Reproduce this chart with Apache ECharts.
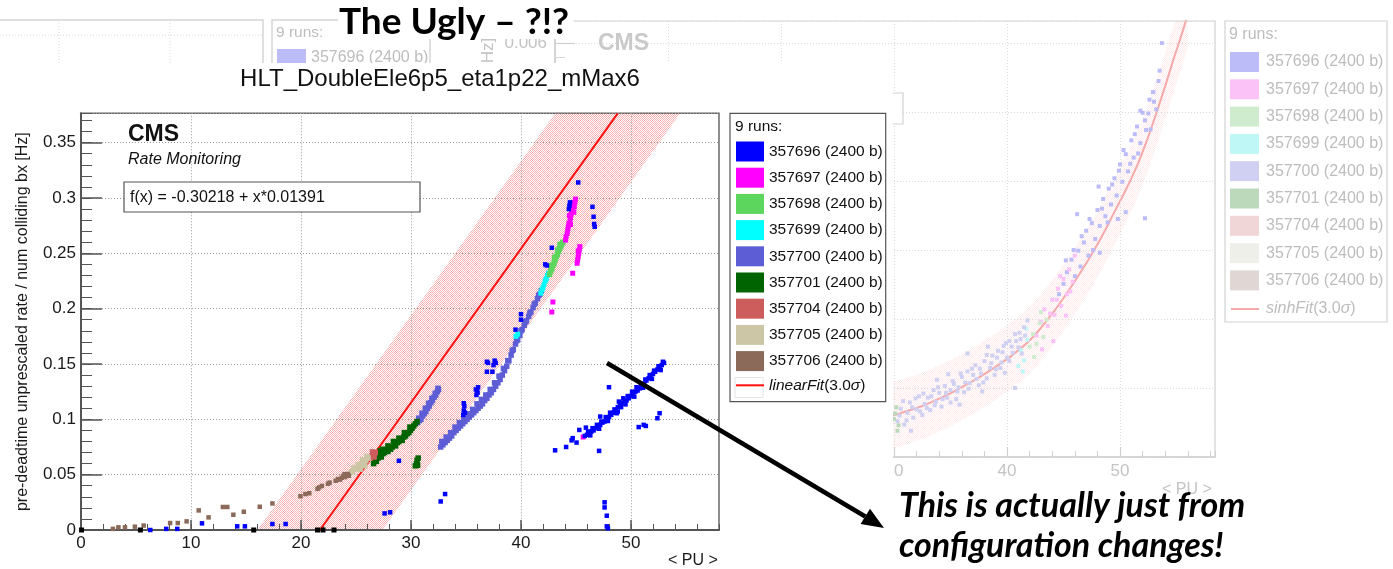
<!DOCTYPE html>
<html>
<head>
<meta charset="utf-8">
<script src="https://cdn.jsdelivr.net/npm/echarts@6/dist/echarts.min.js"></script>
<style>
html, body { margin: 0; padding: 0; background: #fff; }
#chart { width: 1393px; height: 569px; }
</style>
</head>
<body>
<div id="chart"></div>
<script>
// ---------- main plot: HLT_DoubleEle6p5_eta1p22_mMax6 ----------
const runNames = ['357696 (2400 b)', '357697 (2400 b)', '357698 (2400 b)', '357699 (2400 b)',
  '357700 (2400 b)', '357701 (2400 b)', '357704 (2400 b)', '357705 (2400 b)', '357706 (2400 b)'];
const runColors = ['#0000ff', '#ff00ff', '#5cd65c', '#00ffff', '#5d5dd6', '#006400', '#cd5c5c', '#ccc6a6', '#8b6a5a'];
const runMarkerSizes = [4.5, 5, 5.5, 5, 5.5, 5.5, 5.5, 5.5, 4.5];
const fitName = 'linearFit(3.0σ)';

// rate vs <PU> per run
const run357696 = [
  [6.3, 0.0], [7.75, 0.001], [8.75, 0.001], [11.0, 0.006], [14.2, 0.0033], [14.9, 0.0033], [17.4, 0.0054], [18.6, 0.0054],
  [27.6, 0.015], [28.1, 0.016], [28.9, 0.0625], [32.7, 0.0258], [33.1, 0.0325],
  [34.75, 0.104], [34.8, 0.108], [34.85, 0.112], [34.9, 0.106], [34.8, 0.1145], [35.95, 0.122], [36.0, 0.126], [36.1, 0.129], [36.05, 0.124], [35.9, 0.127],
  [36.9, 0.152], [37.0, 0.151], [37.7, 0.151], [37.6, 0.153], [37.5, 0.149], [36.9, 0.143], [37.4, 0.143],
  [39.5, 0.181], [40.0, 0.19], [40.0, 0.195], [42.2, 0.24], [42.35, 0.239], [42.8, 0.255],
  [44.4, 0.293], [44.35, 0.29], [44.45, 0.296], [45.2, 0.314], [46.5, 0.292], [46.6, 0.283], [46.65, 0.2765], [46.7, 0.274],
  [45.8, 0.085], [46.0, 0.086], [46.2, 0.087], [46.4, 0.089], [46.6, 0.09], [46.8, 0.092], [47.0, 0.093], [47.2, 0.095],
  [47.4, 0.097], [47.6, 0.098], [47.8, 0.1], [48.0, 0.102], [48.2, 0.104], [48.4, 0.106], [48.6, 0.108], [48.8, 0.111],
  [49.0, 0.113], [49.2, 0.115], [49.4, 0.116], [49.6, 0.117], [49.8, 0.119], [50.0, 0.121], [50.2, 0.123], [50.4, 0.125],
  [50.6, 0.126], [50.8, 0.128], [51.0, 0.13], [51.2, 0.132], [51.4, 0.135], [51.6, 0.137], [51.8, 0.139], [52.0, 0.141],
  [52.2, 0.143], [52.4, 0.145], [52.6, 0.147], [52.8, 0.149], [53.0, 0.151],
  [46.1, 0.089], [46.5, 0.092], [46.9, 0.095], [47.3, 0.098], [47.7, 0.102], [48.1, 0.106], [48.5, 0.109], [48.9, 0.116],
  [49.3, 0.119], [49.7, 0.121], [50.1, 0.125], [50.5, 0.129], [50.9, 0.132], [51.3, 0.136], [51.7, 0.14], [52.1, 0.144],
  [52.5, 0.148], [52.9, 0.152], [48.8, 0.107], [49.1, 0.111],
  [46.3, 0.0855], [47.1, 0.0915], [47.9, 0.0985], [48.7, 0.1055], [49.5, 0.1135], [50.3, 0.1205], [51.1, 0.1285], [51.9, 0.1365], [52.7, 0.1445],
  [43.1, 0.072], [44.1, 0.075], [44.6, 0.081], [44.7, 0.083], [45.05, 0.079], [45.3, 0.0904], [45.9, 0.0925], [47.1, 0.0715],
  [47.2, 0.1025], [48.0, 0.129], [50.7, 0.093], [51.15, 0.095], [51.35, 0.094], [52.4, 0.101], [52.6, 0.1055],
  [47.6, 0.025], [47.6, 0.0204], [47.8, 0.0129], [47.8, 0.0033], [47.9, 0.0015]
];
const run357697 = [
  [44.05, 0.262], [44.1, 0.265], [44.2, 0.268], [44.25, 0.271], [44.3, 0.274], [44.35, 0.277], [44.45, 0.279], [44.5, 0.282],
  [44.55, 0.285], [44.6, 0.288], [44.7, 0.29], [44.65, 0.293], [44.75, 0.296], [44.85, 0.292], [44.9, 0.296], [44.95, 0.299],
  [44.5, 0.276], [44.4, 0.284], [44.8, 0.287],
  [45.1, 0.241], [45.15, 0.244], [45.2, 0.247], [45.25, 0.25], [45.3, 0.253], [45.35, 0.256], [45.2, 0.252],
  [44.7, 0.232], [42.9, 0.206], [42.8, 0.197], [45.65, 0.084]
];
const run357698 = [
  [42.6, 0.231], [42.7, 0.234], [42.8, 0.236], [42.9, 0.239], [43.0, 0.241], [43.1, 0.244], [43.2, 0.247], [43.3, 0.249],
  [43.4, 0.252], [43.5, 0.254], [43.6, 0.256], [43.7, 0.258], [43.8, 0.26], [42.75, 0.239], [43.05, 0.246], [43.35, 0.253], [43.55, 0.258]
];
const run357699 = [
  [41.8, 0.214], [41.9, 0.217], [42.0, 0.219], [42.1, 0.222], [42.2, 0.225], [42.3, 0.227], [42.4, 0.23], [42.5, 0.232],
  [39.55, 0.175], [39.7, 0.177]
];
const run357700 = [
  [30.6, 0.097], [30.75, 0.099], [30.9, 0.1], [31.05, 0.103], [31.2, 0.105], [31.35, 0.107], [31.5, 0.11], [31.65, 0.112],
  [31.8, 0.115], [31.95, 0.117], [32.1, 0.12], [32.25, 0.122], [32.4, 0.125], [32.5, 0.127], [30.7, 0.101], [31.0, 0.1055],
  [31.3, 0.11], [31.6, 0.1145], [31.9, 0.119], [32.2, 0.1235], [32.45, 0.128],
  [32.7, 0.075], [32.9, 0.077], [33.1, 0.079], [33.3, 0.081], [33.5, 0.083], [33.7, 0.085], [33.9, 0.088], [34.1, 0.09],
  [34.3, 0.092], [34.5, 0.094], [34.7, 0.096], [34.9, 0.098], [35.1, 0.1], [35.3, 0.102], [35.5, 0.104], [35.7, 0.106],
  [35.9, 0.108], [36.1, 0.11], [36.3, 0.112], [36.5, 0.114], [36.7, 0.117], [36.9, 0.119], [37.1, 0.122], [37.3, 0.124],
  [37.5, 0.127], [37.7, 0.13], [37.9, 0.133], [38.1, 0.136], [38.3, 0.14], [38.5, 0.144], [38.7, 0.148], [38.9, 0.153],
  [39.1, 0.158], [39.3, 0.163], [39.5, 0.168], [39.7, 0.172], [39.9, 0.176], [40.1, 0.181], [40.3, 0.185], [40.5, 0.189],
  [40.7, 0.193], [40.9, 0.197], [41.1, 0.201], [41.3, 0.205], [41.5, 0.209], [41.7, 0.213], [41.85, 0.216],
  [32.8, 0.08], [33.2, 0.084], [33.6, 0.088], [34.0, 0.093], [34.4, 0.097], [34.8, 0.101], [35.2, 0.105], [35.6, 0.109],
  [36.0, 0.114], [36.4, 0.118], [36.8, 0.122], [37.2, 0.127], [37.6, 0.133], [38.0, 0.139], [38.4, 0.146], [38.8, 0.153],
  [39.2, 0.162], [39.6, 0.171], [40.0, 0.18], [40.4, 0.188], [40.8, 0.196], [41.2, 0.204], [41.6, 0.212]
];
const run357701 = [
  [26.6, 0.06], [26.7, 0.063], [26.85, 0.062], [27.0, 0.065], [27.1, 0.068], [27.2, 0.0715], [27.3, 0.066], [27.45, 0.069],
  [27.6, 0.07], [27.75, 0.072], [27.9, 0.071], [28.0, 0.074], [28.15, 0.073], [28.3, 0.075], [28.45, 0.077], [28.6, 0.076],
  [28.75, 0.079], [28.9, 0.08], [29.05, 0.082], [29.2, 0.081], [29.35, 0.084], [29.5, 0.085], [29.65, 0.087], [29.8, 0.088],
  [29.95, 0.09], [30.1, 0.092], [30.25, 0.094], [30.4, 0.096], [30.55, 0.098], [27.4, 0.073], [27.9, 0.076], [28.4, 0.08],
  [28.9, 0.083], [29.4, 0.088], [29.9, 0.093],
  [30.4, 0.058], [30.5, 0.06], [30.55, 0.063], [30.65, 0.065], [30.6, 0.0585]
];
const run357704 = [[26.3, 0.065], [26.45, 0.067], [26.6, 0.068], [26.75, 0.07], [26.5, 0.0705], [26.65, 0.066]];
const run357705 = [
  [24.5, 0.052], [24.7, 0.053], [24.9, 0.055], [25.1, 0.056], [25.3, 0.058], [25.5, 0.06], [25.7, 0.061], [25.9, 0.063],
  [26.1, 0.065], [24.8, 0.056], [25.2, 0.059], [25.6, 0.0635], [26.0, 0.0665], [25.4, 0.055], [25.8, 0.058]
];
const run357706 = [
  [2.9, 0.001], [3.4, 0.0024], [4.0, 0.0024], [4.9, 0.003], [5.7, 0.004], [8.1, 0.0063], [8.8, 0.0063], [9.6, 0.0078],
  [10.7, 0.0177], [11.6, 0.0114], [12.9, 0.0208], [13.3, 0.0208], [13.85, 0.0138], [14.8, 0.0165], [16.25, 0.021], [17.4, 0.024],
  [19.95, 0.0305], [20.4, 0.0325], [20.75, 0.0332], [21.5, 0.0372], [21.65, 0.0385], [21.9, 0.0398], [22.45, 0.0418], [22.6, 0.0428],
  [23.15, 0.0445], [23.35, 0.046], [23.55, 0.0455], [23.7, 0.0472], [23.85, 0.0488], [24.0, 0.0478], [24.1, 0.0495], [24.25, 0.0505],
  [24.35, 0.049], [23.95, 0.0505]
];
const zeroRatePoints = [[0.05, 0], [5.4, 0], [15.7, 0], [21.5, 0], [22.0, 0], [23.0, 0]];
const runData = [run357696, run357697, run357698, run357699, run357700, run357701, run357704, run357705, run357706];

// linear fit f(x) = a + b*x with a 3 sigma band
const fitIntercept = -0.30218;
const fitSlope = 0.01391;
const fitSigma = 0.02635;
const fitNSigma = 3;

// axis ranges / ticks
const xMin = 0, xMax = 58, xMajor = 10, xMinor = 2;
const yMin = 0, yMax = 0.3765, yMajor = 0.05, yMinor = 0.01;

// ---------- faded plot behind (sinh fit) ----------
const bgRunColors = ['#bcbcf8', '#fbc2f8', '#cfeccf', '#bff7f7', '#d0d0f2', '#bcd9bc', '#f1d6d8', '#efefe9', '#e0d6d4'];
const bgRun357696 = [
  [44.6, 0.00236], [45.0, 0.00251], [45.3, 0.00268], [45.7, 0.00286], [46.0, 0.00262], [46.3, 0.00299], [46.5, 0.00276],
  [46.8, 0.00311], [47.0, 0.00328], [47.2, 0.00292], [47.5, 0.00339], [47.8, 0.00316], [48.0, 0.00358], [48.2, 0.00335],
  [48.5, 0.00374], [48.7, 0.00349], [49.0, 0.00389], [49.2, 0.00366], [49.5, 0.00404], [49.7, 0.00379], [50.0, 0.00424],
  [50.2, 0.00399], [50.5, 0.00439], [50.7, 0.00414], [51.0, 0.00459], [51.2, 0.00434], [51.5, 0.00479], [51.8, 0.00455],
  [52.0, 0.00499], [52.3, 0.00474], [52.6, 0.00518], [52.9, 0.00529], [53.2, 0.00504], [53.4, 0.00545], [51.8, 0.00502],
  [52.95, 0.00529], [53.7, 0.006], [48.1, 0.00392], [52.2, 0.00346], [49.8, 0.00345], [50.5, 0.00355], [46.2, 0.00352], [48.2, 0.00296],
  [45.2, 0.00285], [45.9, 0.003], [46.6, 0.0032], [47.3, 0.00345], [47.6, 0.003], [48.4, 0.0036], [48.9, 0.0034], [49.3, 0.00395],
  [49.9, 0.00415], [50.3, 0.00445], [50.9, 0.00425], [51.3, 0.00468], [51.6, 0.0044], [52.2, 0.00488], [52.5, 0.00498],
  [53.0, 0.00515], [53.5, 0.0056], [52.7, 0.00475]
];
const bgRun357697 = [
  [42.6, 0.00176], [43.0, 0.00196], [43.3, 0.00214], [43.6, 0.0019], [44.0, 0.00228], [44.2, 0.00206], [44.5, 0.00244],
  [44.8, 0.00219], [45.0, 0.00258], [45.3, 0.00236], [45.5, 0.00272], [44.1, 0.00168], [45.8, 0.00254], [46.0, 0.00292],
  [43.1, 0.00156], [44.7, 0.00262], [45.2, 0.00205], [43.8, 0.00208], [44.4, 0.00228], [45.6, 0.0024]
];
const bgRun357698 = [[42.0, 0.0016], [42.3, 0.00178], [42.6, 0.00164], [42.9, 0.00194], [43.2, 0.00174], [43.5, 0.00199], [42.4, 0.00145], [43.0, 0.0021]];
const bgRun357699 = [[41.2, 0.00155], [41.5, 0.0014], [41.8, 0.0017], [41.4, 0.00124], [41.7, 0.00186], [41.0, 0.00132]];
const bgRun357700 = [
  [30.3, 0.00052], [30.6, 0.0007], [30.9, 0.00047], [31.2, 0.00064], [31.4, 0.00079], [31.7, 0.00057], [32.0, 0.00069],
  [32.2, 0.00088], [32.5, 0.00061], [32.7, 0.00077], [33.0, 0.00086], [33.2, 0.00068], [33.5, 0.00097], [33.7, 0.0008],
  [34.0, 0.00093], [34.2, 0.00073], [34.5, 0.00103], [34.7, 0.00086], [35.0, 0.00097], [35.2, 0.0011], [35.5, 0.00084],
  [35.7, 0.00101], [36.0, 0.00116], [36.2, 0.00094], [36.5, 0.00124], [36.7, 0.00107], [37.0, 0.00119], [37.2, 0.00133],
  [37.5, 0.00104], [37.7, 0.00121], [38.0, 0.00139], [38.2, 0.00114], [38.5, 0.00129], [38.7, 0.00147], [39.0, 0.00127],
  [39.2, 0.00154], [39.5, 0.00137], [39.7, 0.00161], [40.0, 0.00144], [40.2, 0.00168], [40.5, 0.00151], [40.7, 0.00178],
  [41.0, 0.00159], [41.2, 0.00171], [41.5, 0.00188], [36.5, 0.0015], [40.7, 0.001], [31.5, 0.00038], [33.8, 0.00112],
  [35.8, 0.00076], [38.3, 0.0016], [39.8, 0.00122], [41.8, 0.00198], [37.8, 0.00095], [34.8, 0.0012],
  [30.5, 0.0006], [30.8, 0.00081], [31.1, 0.00053], [31.6, 0.00072], [31.9, 0.00085], [32.3, 0.00066], [32.6, 0.00092],
  [32.9, 0.00071], [33.3, 0.00088], [33.6, 0.00075], [33.9, 0.00101], [34.3, 0.00084], [34.6, 0.00093], [35.0, 0.00079],
  [35.3, 0.00106], [35.6, 0.00095], [35.9, 0.00121], [36.3, 0.00108], [36.6, 0.00099], [36.9, 0.00128], [37.3, 0.00113],
  [37.6, 0.00128], [37.9, 0.00108], [38.2, 0.00148], [38.6, 0.00136], [38.9, 0.00119], [39.1, 0.00144], [39.4, 0.00129],
  [39.6, 0.00152], [39.9, 0.00165], [40.2, 0.00139], [40.4, 0.0016], [40.8, 0.00168], [41.1, 0.0018], [41.3, 0.0015], [41.6, 0.00176]
];
const bgRun357701 = [[30.0, 0.00055], [30.2, 0.00072], [30.4, 0.00046], [30.1, 0.00063], [30.3, 0.00038]];
const bgRunData = [bgRun357696, bgRun357697, bgRun357698, bgRun357699, bgRun357700, bgRun357701, [], [], []];
const bgFitCurve = [
  [29.5, 0.00058], [30.1, 0.00061], [32.5, 0.00074], [34.7, 0.0009], [36.2, 0.00103], [37.6, 0.00116], [39.0, 0.00131],
  [40.5, 0.00148], [42.3, 0.00174], [44.1, 0.0021], [45.6, 0.00245], [47.05, 0.00282], [48.3, 0.00317], [49.4, 0.00352],
  [50.5, 0.00387], [51.5, 0.00422], [52.4, 0.0046], [53.2, 0.00498], [54.0, 0.00538], [54.7, 0.00575], [55.4, 0.0061], [56.0, 0.00642]
];
const bgBandHalf = 0.00048;
const bgXMax = 58.4, bgYMax = 0.00632;

const SANS = '"Liberation Sans", Arial, Helvetica, sans-serif';
const LATO = 'Lato, "Open Sans", sans-serif';

function dotPattern(rgba) {
  const c = document.createElement('canvas');
  c.width = 2; c.height = 2;
  const g = c.getContext('2d');
  g.fillStyle = rgba;
  g.fillRect(0, 0, 1, 1);
  g.fillRect(1, 1, 1, 1);
  return { image: c, repeat: 'repeat' };
}

// fit geometry (data space)
const halfBand = fitNSigma * fitSigma;
const xAtY = (y, off) => (y - fitIntercept - off) / fitSlope;
const fitLine = [[xAtY(0, 0), 0], [xAtY(yMax, 0), yMax]];
const bandPolygon = [[xAtY(0, halfBand), 0], [xAtY(0, -halfBand), 0], [xAtY(yMax, -halfBand), yMax], [xAtY(yMax, halfBand), yMax]];
const bgBandPolygon = bgFitCurve.map(p => [p[0], p[1] + bgBandHalf])
  .concat(bgFitCurve.slice().reverse().map(p => [p[0], p[1] - bgBandHalf]));

const chart = echarts.init(document.getElementById('chart'), null, { renderer: 'canvas' });

const axisGray = '#555';
const gridDots = { color: '#9a9a9a', type: [1, 2], width: 1 };
const bgGray = '#c4c4c4';

function minorAxis(gridIndex, dim, min, max, step, len, color, zlevel) {
  return {
    gridIndex, type: 'value', min, max, interval: step, position: dim === 'x' ? 'bottom' : 'left', zlevel, z: 3,
    axisLine: { show: false }, axisLabel: { show: false }, splitLine: { show: false },
    axisTick: { show: true, inside: true, length: len, lineStyle: { color, width: 1 } }
  };
}

const xAxes = [
  {
    gridIndex: 0, type: 'value', min: xMin, max: xMax, interval: xMajor, position: 'bottom', zlevel: 1, z: 3,
    axisLine: { show: true, lineStyle: { color: axisGray, width: 2 } },
    axisTick: { show: true, inside: true, length: 10, lineStyle: { color: axisGray, width: 1.5 } },
    axisLabel: { color: '#1a1a1a', fontSize: 17, fontFamily: SANS, margin: 5, showMaxLabel: false },
    splitLine: { show: true, lineStyle: gridDots },
    name: '< PU >', nameLocation: 'end', nameGap: -51,
    nameTextStyle: { color: '#1a1a1a', fontSize: 16, fontFamily: SANS, align: 'left', verticalAlign: 'top', padding: [23, 0, 0, 0] }
  },
  minorAxis(0, 'x', xMin, xMax, xMinor, 6, axisGray, 1),
  {
    gridIndex: 1, type: 'value', min: 0, max: bgXMax, interval: 10, position: 'bottom', zlevel: 0, z: 3,
    axisLine: { show: true, lineStyle: { color: '#cfcfcf', width: 1.5 } },
    axisTick: { show: true, inside: true, length: 10, lineStyle: { color: '#cfcfcf', width: 1.2 } },
    axisLabel: { color: bgGray, fontSize: 17, fontFamily: SANS, margin: 6, showMaxLabel: false },
    splitLine: { show: true, lineStyle: { color: '#dadada', type: [1, 2], width: 1 } },
    name: '< PU >', nameLocation: 'end', nameGap: -53,
    nameTextStyle: { color: bgGray, fontSize: 16, fontFamily: SANS, align: 'left', verticalAlign: 'top', padding: [25, 0, 0, 0] }
  },
  minorAxis(1, 'x', 0, bgXMax, 2, 6, '#d2d2d2', 0)
];

const yAxes = [
  {
    gridIndex: 0, type: 'value', min: yMin, max: yMax, interval: yMajor, position: 'left', zlevel: 1, z: 3,
    axisLine: { show: true, lineStyle: { color: axisGray, width: 2 } },
    axisTick: { show: true, inside: true, length: 21, lineStyle: { color: axisGray, width: 1.5 } },
    axisLabel: { color: '#1a1a1a', fontSize: 17, fontFamily: SANS, margin: 5, showMaxLabel: false },
    splitLine: { show: true, lineStyle: gridDots },
    name: 'pre-deadtime unprescaled rate / num colliding bx [Hz]', nameLocation: 'middle', nameGap: 50,
    nameTextStyle: { color: '#1a1a1a', fontSize: 16, fontFamily: SANS }
  },
  minorAxis(0, 'y', yMin, yMax, yMinor, 11, axisGray, 1),
  {
    gridIndex: 1, type: 'value', min: 0, max: bgYMax, interval: 0.001, position: 'left', zlevel: 0, z: 3,
    axisLine: { show: true, lineStyle: { color: '#cfcfcf', width: 1.5 } },
    axisTick: { show: true, inside: true, length: 20, lineStyle: { color: '#cfcfcf', width: 1.2 } },
    minorTick: { show: true, splitNumber: 5, length: 10, lineStyle: { color: '#d6d6d6' } },
    axisLabel: { color: bgGray, fontSize: 17, fontFamily: SANS, margin: 8, showMaxLabel: false },
    splitLine: { show: true, lineStyle: { color: '#dadada', type: [1, 2], width: 1 } },
    name: 'pre-deadtime unprescaled rate / num colliding bx [Hz]', nameLocation: 'middle', nameGap: 58,
    nameTextStyle: { color: bgGray, fontSize: 17, fontFamily: SANS }
  }
];

const series = [];

// faded plot: band, fit curve, points
series.push({
  type: 'custom', name: 'bgBand', xAxisIndex: 2, yAxisIndex: 2, zlevel: 0, z: 1, silent: true, clip: true,
  data: [[bgFitCurve[0][0], bgFitCurve[0][1]]],
  renderItem: (params, api) => ({
    type: 'polygon',
    shape: { points: bgBandPolygon.map(p => api.coord(p)) },
    style: { fill: dotPattern('rgba(245,165,165,0.22)') }
  })
});
series.push({
  type: 'line', name: 'sinhFit(3.0σ)', xAxisIndex: 2, yAxisIndex: 2, zlevel: 0, z: 2, silent: true, clip: true,
  data: bgFitCurve, smooth: 0.3, showSymbol: false, symbol: 'none',
  lineStyle: { color: '#f6a9a9', width: 2 }
});
bgRunData.forEach((d, i) => {
  if (!d.length) return;
  series.push({
    type: 'scatter', name: 'bg ' + runNames[i], xAxisIndex: 2, yAxisIndex: 2, zlevel: 0, z: 3, silent: true,
    data: d, symbol: 'rect', symbolSize: 4, itemStyle: { color: bgRunColors[i], opacity: 1 }
  });
});

// main plot: band, fit line, points
series.push({
  type: 'custom', name: 'fitBand', xAxisIndex: 0, yAxisIndex: 0, zlevel: 1, z: 2, silent: true, clip: true,
  data: [[fitLine[0][0], 0]],
  renderItem: (params, api) => ({
    type: 'polygon',
    shape: { points: bandPolygon.map(p => api.coord(p)) },
    style: { fill: dotPattern('rgba(235,75,75,0.42)') }
  })
});
series.push({
  type: 'line', name: fitName, xAxisIndex: 0, yAxisIndex: 0, zlevel: 1, z: 3, silent: true,
  data: fitLine, symbol: 'none', showSymbol: false,
  lineStyle: { color: '#ff1010', width: 2 }, itemStyle: { color: '#ff1010' }
});
const drawOrder = [4, 5, 6, 7, 8, 3, 2, 1, 0];
drawOrder.forEach((i, k) => {
  series.push({
    type: 'scatter', name: runNames[i], xAxisIndex: 0, yAxisIndex: 0, zlevel: 1, z: 4 + k * 0.1, silent: true,
    data: runData[i], symbol: 'rect', symbolSize: runMarkerSizes[i], itemStyle: { color: runColors[i], opacity: 1 }
  });
});
series.push({
  type: 'scatter', name: 'zero rate', xAxisIndex: 0, yAxisIndex: 0, zlevel: 1, z: 5, silent: true,
  data: zeroRatePoints, symbol: 'rect', symbolSize: 5, itemStyle: { color: '#000', opacity: 1 }
});

// ---------- decorations ----------
const g = [];
const T = (x, y, text, o) => Object.assign({ type: 'text', x, y, silent: true, style: Object.assign({ text, fontFamily: SANS, fill: '#111', verticalAlign: 'middle' }, o.style || {}) }, o.el || {});

// fragments of another faded plot, top-left
g.push({ type: 'rect', zlevel: 0, z: 1, shape: { x: -2, y: 20, width: 265, height: 320 }, style: { fill: 'none', stroke: '#d6d6d6', lineWidth: 1.5 } });
g.push({ type: 'line', zlevel: 0, z: 1, shape: { x1: 0, y1: 35, x2: 263, y2: 35 }, style: { stroke: '#d8d8d8', lineDash: [1, 2] } });
g.push({ type: 'line', zlevel: 0, z: 1, shape: { x1: 59, y1: 20, x2: 59, y2: 70 }, style: { stroke: '#d8d8d8', lineDash: [1, 2] } });
g.push({ type: 'line', zlevel: 0, z: 1, shape: { x1: 170, y1: 20, x2: 170, y2: 70 }, style: { stroke: '#d8d8d8', lineDash: [1, 2] } });
g.push({ type: 'rect', zlevel: 0, z: 1, shape: { x: 272, y: 20, width: 158, height: 320 }, style: { fill: '#fff', stroke: '#d6d6d6', lineWidth: 1.5 } });
g.push(T(276, 33, '9 runs:', { el: { zlevel: 0, z: 2 }, style: { fill: '#bdbdbd', fontSize: 15.5 } }));
g.push({ type: 'rect', zlevel: 0, z: 2, shape: { x: 277, y: 49, width: 29, height: 19 }, style: { fill: bgRunColors[0] } });
g.push(T(311, 58, runNames[0], { el: { zlevel: 0, z: 2 }, style: { fill: '#bdbdbd', fontSize: 16 } }));

// faded plot labels and legend
g.push(T(598, 44, 'CMS', { el: { zlevel: 0, z: 4 }, style: { fill: '#c9c9c9', fontSize: 23, fontWeight: 'bold' } }));
g.push({ type: 'rect', zlevel: 0, z: 4, shape: { x: 610, y: 93, width: 293, height: 31 }, style: { fill: '#fff', stroke: '#d2d2d2', lineWidth: 1.2 } });
g.push({ type: 'rect', zlevel: 0, z: 4, shape: { x: 1225, y: 21, width: 162, height: 301 }, style: { fill: '#fff', stroke: '#d2d2d2', lineWidth: 1.2 } });
g.push(T(1229, 35, '9 runs:', { el: { zlevel: 0, z: 5 }, style: { fill: '#bdbdbd', fontSize: 16 } }));
runNames.forEach((n, i) => {
  const yc = 62 + i * 27.3;
  g.push({ type: 'rect', zlevel: 0, z: 5, shape: { x: 1230, y: yc - 10, width: 29, height: 20 }, style: { fill: bgRunColors[i] } });
  g.push(T(1266, yc, n, { el: { zlevel: 0, z: 5 }, style: { fill: '#bdbdbd', fontSize: 16 } }));
});
g.push({ type: 'line', zlevel: 0, z: 5, shape: { x1: 1231, y1: 309, x2: 1259, y2: 309 }, style: { stroke: '#f6a9a9', lineWidth: 2 } });
g.push(T(1266, 309, '{i|sinhFit}(3.0{i|σ})', { el: { zlevel: 0, z: 5 }, style: { fill: '#bdbdbd', fontSize: 16, rich: { i: { fontStyle: 'italic', fontSize: 16, fontFamily: SANS, fill: '#bdbdbd' } } } }));

// main plot panel
g.push({ type: 'rect', zlevel: 1, z: 0, shape: { x: 0, y: 63, width: 893, height: 506 }, style: { fill: '#fff' } });
g.push(T(440, 79, 'HLT_DoubleEle6p5_eta1p22_mMax6', { el: { zlevel: 1, z: 10 }, style: { fontSize: 24, align: 'center' } }));
g.push(T(128, 135, 'CMS', { el: { zlevel: 1, z: 10 }, style: { fontSize: 23, fontWeight: 'bold' } }));
g.push(T(128, 160, 'Rate Monitoring', { el: { zlevel: 1, z: 10 }, style: { fontSize: 16, fontStyle: 'italic' } }));
g.push({ type: 'rect', zlevel: 1, z: 9, shape: { x: 124, y: 182, width: 296, height: 30 }, style: { fill: '#fff', stroke: '#555', lineWidth: 1.2 } });
g.push(T(130, 197.5, 'f(x) = ' + fitIntercept.toFixed(5) + ' + x*' + fitSlope.toFixed(5), { el: { zlevel: 1, z: 10 }, style: { fontSize: 16 } }));
g.push({ type: 'rect', zlevel: 1, z: 5, shape: { x: 730, y: 113.3, width: 155.7, height: 288.4 }, style: { fill: '#fff', stroke: '#555', lineWidth: 1.2 } });
g.push({ type: 'rect', zlevel: 1, z: 6, shape: { x: 735, y: 377.5, width: 28, height: 20 }, style: { fill: '#fff', stroke: '#e4e4e4', lineWidth: 1 } });
g.push(T(735, 127, '9 runs:', { el: { zlevel: 1, z: 6 }, style: { fontSize: 15.5 } }));

// slide overlay: heading, arrow, note
g.push({ type: 'rect', zlevel: 2, z: 1, shape: { x: 338, y: 0, width: 236, height: 39 }, style: { fill: '#fff' } });
g.push(T(454, 22, 'The Ugly – ?!?', { el: { zlevel: 2, z: 2 }, style: { fontFamily: LATO, fontWeight: 'bold', fontSize: 37, fill: '#000', align: 'center' } }));
const tip = [884, 528], dir = [0.851, 0.525], nrm = [-0.525, 0.851];
const base = [tip[0] - 22 * dir[0], tip[1] - 22 * dir[1]];
g.push({ type: 'line', zlevel: 2, z: 2, shape: { x1: 607, y1: 363, x2: base[0], y2: base[1] }, style: { stroke: '#000', lineWidth: 4.5 } });
g.push({ type: 'polygon', zlevel: 2, z: 2, shape: { points: [tip, [base[0] + 9 * nrm[0], base[1] + 9 * nrm[1]], [base[0] - 9 * nrm[0], base[1] - 9 * nrm[1]]] }, style: { fill: '#000' } });
g.push(T(899, 506, 'This is actually just from', { el: { zlevel: 2, z: 2 }, style: { fontFamily: LATO, fontWeight: 'bold', fontStyle: 'italic', fontSize: 34, fill: '#000' } }));
g.push(T(899, 546, 'configuration changes!', { el: { zlevel: 2, z: 2 }, style: { fontFamily: LATO, fontWeight: 'bold', fontStyle: 'italic', fontSize: 34, fill: '#000' } }));

chart.setOption({
  animation: false,
  backgroundColor: '#fff',
  textStyle: { fontFamily: SANS },
  grid: [
    { left: 81, top: 113.3, width: 638, height: 417.7, show: true, borderColor: '#666', borderWidth: 1.5, backgroundColor: 'rgba(0,0,0,0)', zlevel: 1, z: 1, containLabel: false },
    { left: 555, top: 21, width: 660, height: 436, show: true, borderColor: '#d4d4d4', borderWidth: 1.2, backgroundColor: 'rgba(0,0,0,0)', zlevel: 0, z: 0, containLabel: false }
  ],
  xAxis: xAxes,
  yAxis: yAxes,
  legend: {
    zlevel: 1, z: 7, orient: 'vertical', left: 735, top: 141.5, padding: 0,
    itemWidth: 28, itemHeight: 20, itemGap: 6.2, selectedMode: false,
    data: runNames.map(n => ({ name: n, icon: 'rect', itemStyle: { opacity: 1 } }))
      .concat([{ name: fitName, itemStyle: { opacity: 0 }, lineStyle: { color: '#ff1010', width: 2, opacity: 1 } }]),
    formatter: n => (n === fitName ? '{i|linearFit}(3.0{i|σ})' : n),
    textStyle: { fontFamily: SANS, fontSize: 15.5, color: '#111', rich: { i: { fontStyle: 'italic', fontFamily: SANS, fontSize: 15.5, color: '#111' } } }
  },
  graphic: { elements: g },
  series
});
</script>
</body>
</html>
